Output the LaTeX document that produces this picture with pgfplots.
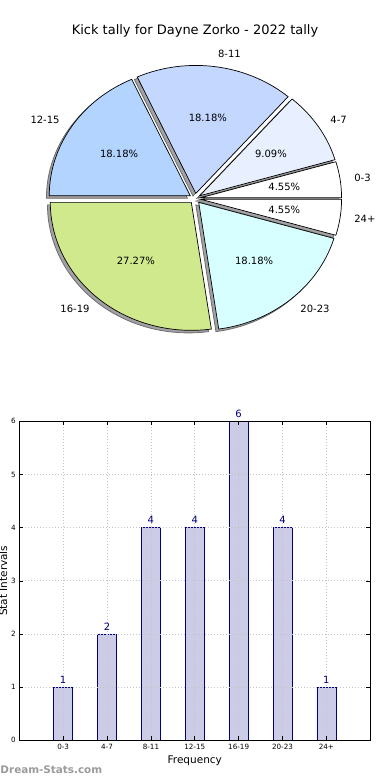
\documentclass[border=0pt]{standalone}
\usepackage{pgfplots}
\pgfplotsset{compat=1.18}
\usepackage{pgfplotstable}
\usepackage{fontspec}
\setmainfont{DejaVu Sans}

\definecolor{pie0}{HTML}{FFFFFF}
\definecolor{pie1}{HTML}{E8F0FF}
\definecolor{pie2}{HTML}{C4D8FF}
\definecolor{pie3}{HTML}{B3D4FF}
\definecolor{pie4}{HTML}{D0E98C}
\definecolor{pie5}{HTML}{D8FFFF}
\definecolor{pie6}{HTML}{FFFFFF}
\definecolor{shadowfill}{HTML}{A2A2A4}
\definecolor{shadowedge}{HTML}{6E6E70}
\definecolor{barfill}{HTML}{CCCCE6}
\definecolor{baredge}{HTML}{000080}
\definecolor{gridc}{HTML}{C4C4C4}
\definecolor{wmark}{HTML}{9A9A9A}

\pgfplotstableread{
idx label value
0 0-3 1
1 4-7 2
2 8-11 4
3 12-15 4
4 16-19 6
5 20-23 4
6 24+ 1
}\kickdata

\newcommand\explode{0.04}
\def\kcum{0}
\def\ktotal{0}
\pgfplotsforeachungrouped \kidx in {0,...,6}{%
  \pgfplotstablegetelem{\kidx}{value}\of\kickdata
  \pgfmathsetmacro\ktotal{\ktotal+\pgfplotsretval}%
}
\pgfplotsforeachungrouped \kidx in {0,...,6}{%
  \pgfplotstablegetelem{\kidx}{value}\of\kickdata
  \let\kval\pgfplotsretval
  \pgfmathsetmacro\kangs{360*\kcum/\ktotal}%
  \pgfmathsetmacro\kcum{\kcum+\kval}%
  \pgfmathsetmacro\kange{360*\kcum/\ktotal}%
  \pgfmathsetmacro\kmid{(\kangs+\kange)/2}%
  \pgfmathsetmacro\kcos{cos(\kmid)}%
  \pgfmathsetmacro\ksin{sin(\kmid)}%
  \expandafter\xdef\csname pa\kidx\endcsname{\kangs}%
  \expandafter\xdef\csname pb\kidx\endcsname{\kange}%
  \pgfmathsetmacro\ktmp{\explode*\kcos}\expandafter\xdef\csname ex\kidx\endcsname{\ktmp}%
  \pgfmathsetmacro\ktmp{\explode*\ksin}\expandafter\xdef\csname ey\kidx\endcsname{\ktmp}%
  \pgfmathsetmacro\ktmp{(1.1+\explode)*\kcos}\expandafter\xdef\csname lx\kidx\endcsname{\ktmp}%
  \pgfmathsetmacro\ktmp{(1.1+\explode)*\ksin}\expandafter\xdef\csname ly\kidx\endcsname{\ktmp}%
  \pgfmathsetmacro\ktmp{(0.6+\explode)*\kcos}\expandafter\xdef\csname qx\kidx\endcsname{\ktmp}%
  \pgfmathsetmacro\ktmp{(0.6+\explode)*\ksin}\expandafter\xdef\csname qy\kidx\endcsname{\ktmp}%
  \pgfmathsetmacro\ktmp{100*\kval/\ktotal}\expandafter\xdef\csname pv\kidx\endcsname{\ktmp}%
  \ifdim\kcos pt>0pt
    \expandafter\xdef\csname an\kidx\endcsname{west}%
  \else
    \expandafter\xdef\csname an\kidx\endcsname{east}%
  \fi
  \pgfplotstablegetelem{\kidx}{label}\of\kickdata
  \expandafter\xdef\csname pl\kidx\endcsname{\pgfplotsretval}%
}

\begin{document}
\begin{tikzpicture}
\useasboundingbox (0,0) rectangle (390pt,780pt);

% ---------------- Pie chart ----------------
\begin{axis}[
  at={(0pt,390pt)}, anchor=south west,
  scale only axis, width=390pt, height=390pt,
  xmin=-1.38298, xmax=1.38298,
  ymin=-1.49609, ymax=1.55078,
  hide axis, clip=false,
]
\pgfplotsinvokeforeach{0,...,6}{
  \filldraw[fill=shadowfill, draw=shadowedge, line width=0.8pt]
    (axis cs:{\csname ex#1\endcsname-0.02},{\csname ey#1\endcsname-0.02})
    -- ++(\csname pa#1\endcsname:141pt and 128pt)
    arc[start angle=\csname pa#1\endcsname, end angle=\csname pb#1\endcsname, x radius=141pt, y radius=128pt]
    -- cycle;
}
\pgfplotsinvokeforeach{0,...,6}{
  \filldraw[fill=pie#1, draw=black, line width=0.7pt]
    (axis cs:\csname ex#1\endcsname,\csname ey#1\endcsname)
    -- ++(\csname pa#1\endcsname:141pt and 128pt)
    arc[start angle=\csname pa#1\endcsname, end angle=\csname pb#1\endcsname, x radius=141pt, y radius=128pt]
    -- cycle;
}
\pgfplotsinvokeforeach{0,...,6}{
  \node[anchor=\csname an#1\endcsname, inner sep=0pt, font=\fontsize{10}{12}\selectfont]
    at (axis cs:\csname lx#1\endcsname,\csname ly#1\endcsname) {\csname pl#1\endcsname};
  \node[anchor=center, inner sep=0pt, font=\fontsize{10}{12}\selectfont]
    at (axis cs:\csname qx#1\endcsname,\csname qy#1\endcsname)
    {\pgfmathprintnumber[fixed,fixed zerofill,precision=2,assume math mode=true]{\csname pv#1\endcsname}\%};
}
\node[anchor=base, inner sep=0pt, font=\fontsize{13}{15}\selectfont]
  at (rel axis cs:0.5,0.912) {Kick tally for Dayne Zorko - 2022 tally};
\end{axis}

% ---------------- Bar chart ----------------
\begin{axis}[
  at={(19.3pt,39.7pt)}, anchor=south west,
  scale only axis, width=351pt, height=319pt,
  xmin=-1, xmax=7, ymin=0, ymax=6,
  ybar, bar width=19pt, bar shift=0pt,
  xtick={0,...,6}, xticklabels from table={\kickdata}{label},
  ytick={0,...,6},
  grid=major, grid style={dash pattern=on 1pt off 2pt, color=gridc, line width=0.7pt},
  axis on top,
  tick align=inside, major tick length=4pt,
  tick style={black, line width=0.6pt},
  axis line style={black, line width=0.8pt},
  ticklabel style={font=\fontsize{7.2}{8}\selectfont},
  /pgf/number format/assume math mode=true,
  xlabel={Frequency}, ylabel={Stat Intervals},
  label style={font=\fontsize{10.5}{12}\selectfont},
  xlabel style={at={(axis description cs:0.5,-0.065)}, anchor=center},
  ylabel style={at={(axis description cs:-0.046,0.5)}, anchor=center},
  nodes near coords,
  every node near coord/.append style={font=\fontsize{10}{12}\selectfont, color=baredge},
  clip=false,
]
\addplot[fill=barfill, draw=baredge, line width=0.7pt] table[x=idx, y=value]{\kickdata};
\end{axis}

\node[anchor=west, inner sep=0pt, font=\bfseries\fontsize{10.4}{12}\selectfont, color=wmark]
  at (0.3pt,10pt) {Dream-Stats.com};
\end{tikzpicture}
\end{document}
